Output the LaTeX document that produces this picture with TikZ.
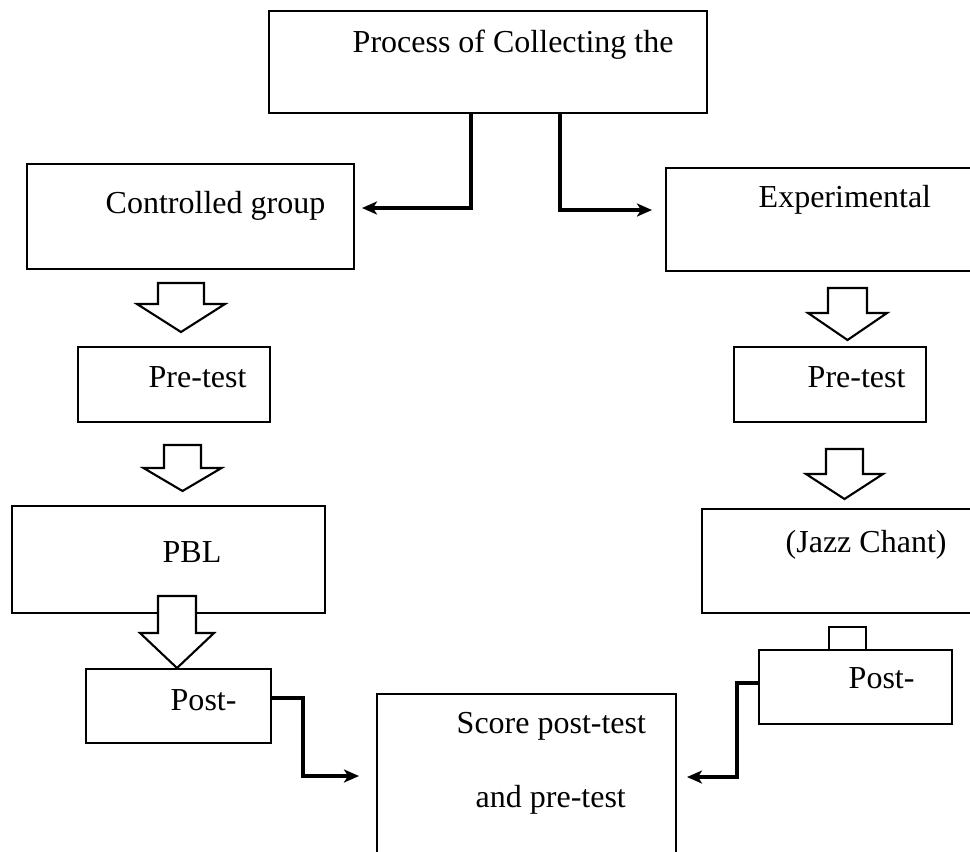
\documentclass[tikz,border=0pt]{standalone}
\usepackage{fontspec}
\setmainfont{Liberation Serif}
\usepackage{tikz}
\usetikzlibrary{arrows.meta,positioning,calc,fit}

\tikzset{
  box/.style={draw, line width=0.75pt, inner sep=0pt, outer sep=0pt},
  lbl/.style={anchor=base west, inner sep=0pt, font=\fontsize{9.1}{11}\selectfont},
  conn/.style={line width=1.15pt, -{Stealth[length=0.15cm,width=0.13cm,inset=0.04cm]}},
  hollow/.style={draw, fill=white, line width=0.6pt, line join=miter}
}

\begin{document}
\begin{tikzpicture}[x=0.01cm, y=-0.01cm]
  \useasboundingbox (0,0) rectangle (970,851);
  \clip (0,0) rectangle (970,851);

  % Top box
  \node[box, fit={(269,11) (707,113)}] (top) {};
  \node[lbl] (t-top) at (352,52) {Process of Collecting the};

  % Controlled side
  \node[box, fit={(27,164) (354,269)}] (ctrl) {};
  \node[lbl] (t-ctrl) at (105,213) {Controlled group};
  \node[box, fit={(78,347) (270,422)}] (preL) {};
  \node[lbl] (t-preL) at (148,387) {Pre-test};
  \node[box, fit={(12,506) (325,613)}] (pbl) {};
  \node[lbl] (t-pbl) at (162,562) {PBL};
  \node[box, fit={(86,669) (271,743)}] (postL) {};
  \node[lbl] (t-postL) at (170,710) {Post-};

  % Experimental side
  \node[box, fit={(666,168) (1000,271)}] (exp) {};
  \node[lbl] (t-exp) at (758,207) {Experimental};
  \node[box, fit={(734,347) (926,422)}] (preR) {};
  \node[lbl] (t-preR) at (807,387) {Pre-test};
  \node[box, fit={(702,509) (1000,613)}] (jazz) {};
  \node[lbl] (t-jazz) at (785,552) {(Jazz Chant)};
  \node[box, fit={(759,650) (952,724)}] (postR) {};
  \node[lbl] (t-postR) at (848,688) {Post-};

  % Score box
  \node[box, fit={(377,694) (676,900)}] (score) {};
  \node[lbl] (t-score1) at (456,733) {Score post-test};
  \node[lbl] (t-score2) at (475,807) {and pre-test};

  % hollow arrows
  \foreach \cx/\sw/\hw/\yt/\yh/\yb in {181/23/44/283/304/332, 182.5/18.5/39/445/468/491,
      177/19/37/596/633/668, 847.5/19.5/39.5/288/313/340, 844.5/18.5/38.5/449/474/499}
    \draw[hollow] ({\cx-\sw},\yt) -- ({\cx+\sw},\yt) -- ({\cx+\sw},\yh) -- ({\cx+\hw},\yh)
      -- (\cx,\yb) -- ({\cx-\hw},\yh) -- ({\cx-\sw},\yh) -- cycle;
  \draw[hollow] (829,627) rectangle (866,650);

  % elbow connectors
  \coordinate (c1) at (471,208);
  \coordinate (c2) at (560,210);
  \coordinate (c3a) at (303,698);
  \coordinate (c3b) at (303,776);
  \coordinate (c4a) at (737,683);
  \coordinate (c4b) at (737,777);
  \draw[conn] (top.south -| c1) |- ($(ctrl.east |- c1)+(8,0)$);
  \draw[conn] (top.south -| c2) |- ($(exp.west |- c2)+(-14,0)$);
  \draw[conn] (postL.east |- c3a) -- (c3a) -- (c3b) -- ($(score.west |- c3b)+(-18,0)$);
  \draw[conn] (postR.west |- c4a) -- (c4a) -- (c4b) -- ($(score.east |- c4b)+(11,0)$);
\end{tikzpicture}
\end{document}
